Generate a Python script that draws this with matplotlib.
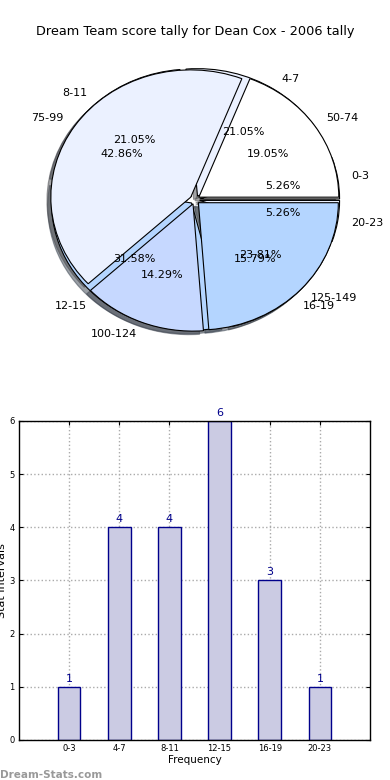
import matplotlib
matplotlib.use('Agg')
import matplotlib.pyplot as plt
import numpy as np

# frequency intervals (bar chart + first pie)
freq_labels = ['0-3', '4-7', '8-11', '12-15', '16-19', '20-23']
freq_counts = [1, 4, 4, 6, 3, 1]

# score intervals (second pie)
score_labels = ['50-74', '75-99', '100-124', '125-149']
score_counts = [4, 9, 3, 5]

pie_colors = ['#FFFFFF', '#EBF1FF', '#C6D8FF', '#B4D5FF']
bar_face = '#CBCBE3'
bar_edge = '#00008B'

fig = plt.figure(figsize=(3.9, 7.8), dpi=100)

# Pie chart (two data sets drawn over each other)
ax1 = fig.add_axes([0.051, 0.54, 0.897, 0.408])
ax1.pie(freq_counts, labels=freq_labels, autopct='%.2f%%',
        colors=[pie_colors[i % 4] for i in range(len(freq_counts))],
        explode=[0.035] * len(freq_counts), shadow=True,
        wedgeprops=dict(edgecolor='black', linewidth=0.8),
        textprops=dict(fontsize=8))
ax1.pie(score_counts, labels=score_labels, autopct='%.2f%%',
        colors=pie_colors, explode=[0.035] * len(score_counts), shadow=True,
        wedgeprops=dict(edgecolor='black', linewidth=0.8),
        textprops=dict(fontsize=8))
ax1.set_aspect('auto')
ax1.set_xlim(-1.25, 1.25)
ax1.set_ylim(-1.25, 1.25)
ax1.set_title('Dream Team score tally for Dean Cox - 2006 tally', fontsize=9.3, pad=4)

# Bar chart
ax2 = fig.add_axes([0.0487, 0.0513, 0.9, 0.409])
x = np.arange(len(freq_labels))
ax2.bar(x, freq_counts, width=0.45, color=bar_face, edgecolor=bar_edge,
        linewidth=1, zorder=2)
for xi, v in zip(x, freq_counts):
    ax2.text(xi, v + 0.06, str(v), ha='center', va='bottom', color=bar_edge, fontsize=8)
ax2.set_xlim(-1, 6)
ax2.set_ylim(0, 6)
ax2.set_xticks(x)
ax2.set_xticklabels(freq_labels)
ax2.set_yticks(range(7))
ax2.tick_params(direction='in', top=True, right=True, labelsize=6, length=3, pad=3)
ax2.grid(True, linestyle=':', color='#AAAAAA', linewidth=1, zorder=0)
ax2.set_axisbelow(True)
ax2.set_xlabel('Frequency', fontsize=7.5, labelpad=1)
ax2.set_ylabel('Stat Intervals', fontsize=8, labelpad=2)
for s in ax2.spines.values():
    s.set_linewidth(1)

fig.text(0.0, 0.0, 'Dream-Stats.com', fontsize=7.5, fontweight='bold',
         color='#999999', ha='left', va='bottom')

fig.savefig('out.png', dpi=100)
